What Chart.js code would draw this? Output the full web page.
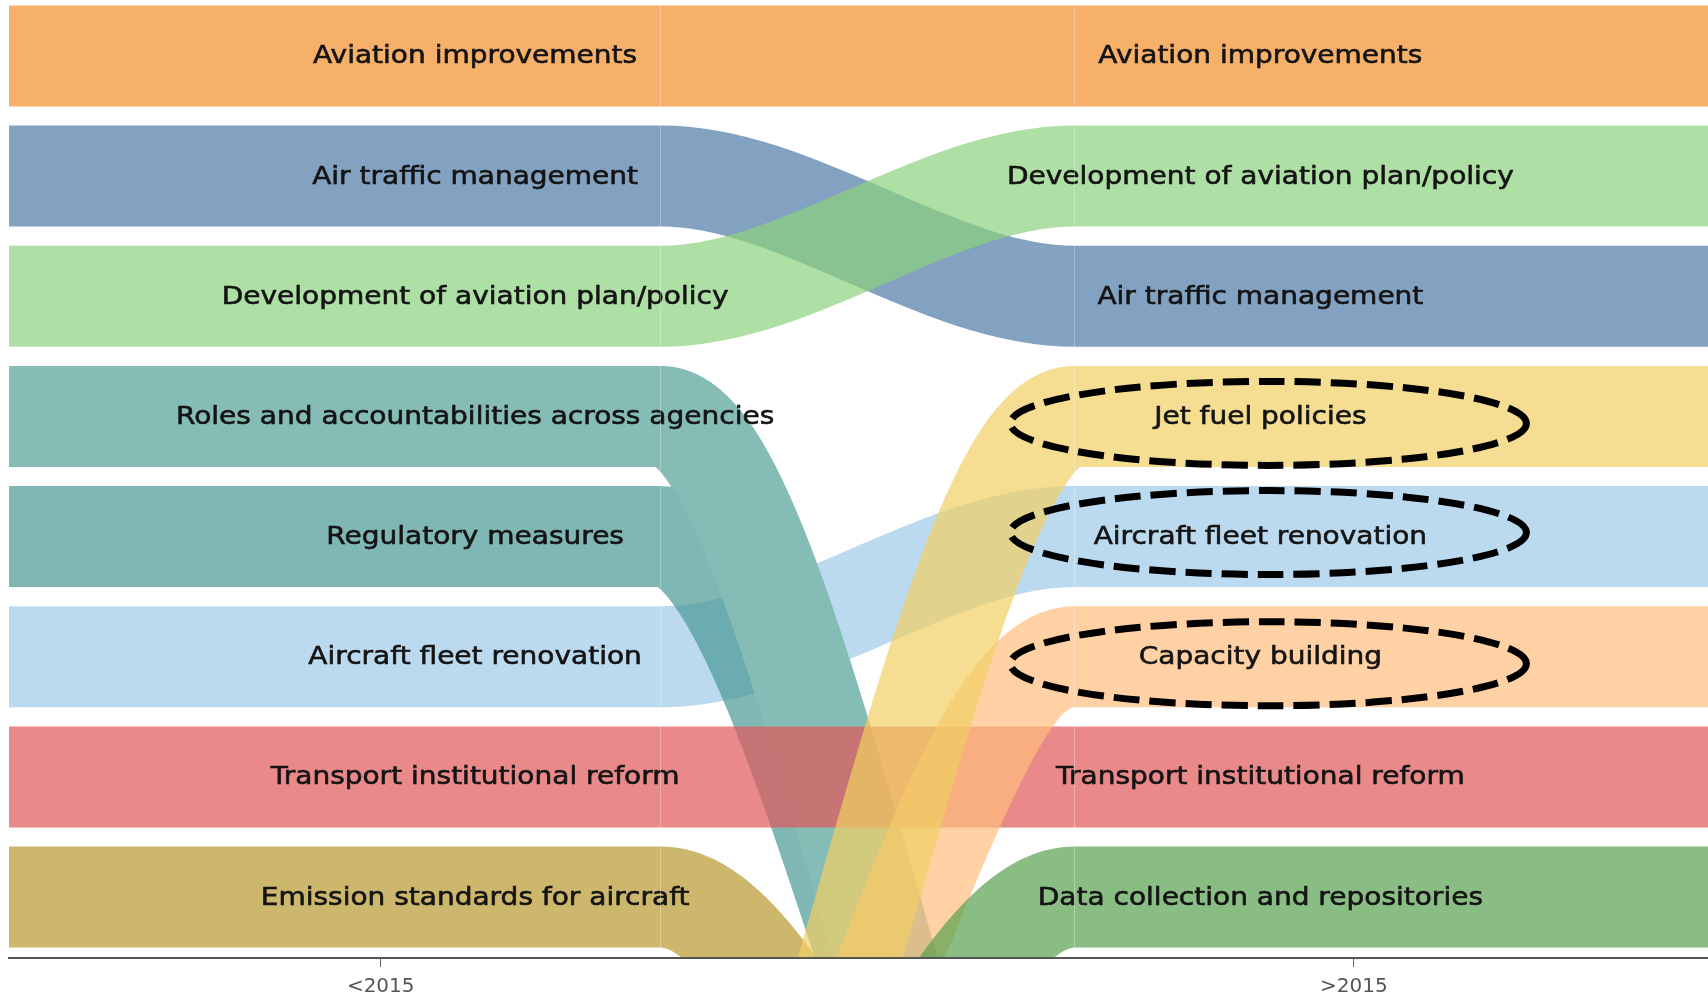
<!DOCTYPE html>
<html>
<head>
<meta charset="utf-8">
<script src="https://cdn.jsdelivr.net/npm/chart.js@4"></script>
<style>
  html, body { margin: 0; padding: 0; background: #fff; }
  #wrap { width: 1708px; height: 998px; }
</style>
</head>
<body>
<div id="wrap"><canvas id="chart"></canvas></div>
<script>
const periods = ["<2015", ">2015"];

const categories = [
  "Aviation improvements",
  "Air traffic management",
  "Development of aviation plan/policy",
  "Roles and accountabilities across agencies",
  "Regulatory measures",
  "Aircraft fleet renovation",
  "Transport institutional reform",
  "Emission standards for aircraft",
  "Jet fuel policies",
  "Capacity building",
  "Data collection and repositories",
];

// rank in each period, null = not in that period's list
const rankBefore = [1, 2, 3, 4, 5, 6, 7, 8, null, null, null];
const rankAfter  = [1, 3, 2, null, null, 5, 7, null, 4, 6, 8];
const offChartRank = 12; // where missing items sit (below the axis)

// hand-drawn rings on the right, with their small vertical nudge in px
const highlighted = ["Jet fuel policies", "Aircraft fleet renovation", "Capacity building"];
const ringNudge = [7, -4, 7];

const COLORS = {
  "Aviation improvements": ["#F28E2B", 0.7],
  "Air traffic management": ["#4E79A7", 0.7],
  "Development of aviation plan/policy": ["#8CD17D", 0.7],
  "Roles and accountabilities across agencies": ["#86BCB6", 1],
  "Regulatory measures": ["#499894", 0.7],
  "Aircraft fleet renovation": ["#A0CBE8", 0.7],
  "Transport institutional reform": ["#E15759", 0.7],
  "Emission standards for aircraft": ["#B6992D", 0.7],
  "Jet fuel policies": ["#F1CE63", 0.7],
  "Capacity building": ["#FFBE7D", 0.7],
  "Data collection and repositories": ["#59A14F", 0.7],
};

// bottom layer first
const LAYERS = [
  "Emission standards for aircraft",
  "Aircraft fleet renovation",
  "Regulatory measures",
  "Roles and accountabilities across agencies",
  "Transport institutional reform",
  "Air traffic management",
  "Development of aviation plan/policy",
  "Aviation improvements",
  "Capacity building",
  "Jet fuel policies",
  "Data collection and repositories",
];

// x layout, in axis units (periods sit at 1 and 2)
const periodPos = [1, 2];
const seams = [1.288, 1.713];
const labelPos = [1.097, 1.904];
const X_MIN = 0.618, X_MAX = 2.364;
const BAND = 101;

function rgba(hex, a) {
  const n = parseInt(hex.slice(1), 16);
  return `rgba(${n >> 16}, ${(n >> 8) & 255}, ${n & 255}, ${a})`;
}

const datasets = categories.map((name, i) => {
  const a = rankBefore[i] ?? offChartRank;
  const b = rankAfter[i] ?? offChartRank;
  const [hex, alpha] = COLORS[name];
  return {
    label: name,
    data: [
      { x: X_MIN - 0.2, y: a },
      { x: seams[0], y: a },
      { x: seams[1], y: b },
      { x: X_MAX + 0.2, y: b },
    ],
    borderColor: rgba(hex, alpha),
    borderWidth: BAND,
    borderCapStyle: "butt",
    cubicInterpolationMode: "monotone",
    pointRadius: 0,
    fill: false,
    clip: 0,
    order: LAYERS.length - LAYERS.indexOf(name),
  };
});

const bandText = {
  id: "bandText",
  afterDatasetsDraw(chart) {
    const { ctx, scales: { x, y } } = chart;
    ctx.save();
    ctx.font = '25px "DejaVu Sans"';
    ctx.fillStyle = "#141414";
    ctx.strokeStyle = "#141414";
    ctx.lineWidth = 0.6;
    ctx.textAlign = "center";
    ctx.textBaseline = "middle";
    [rankBefore, rankAfter].forEach((ranks, p) => {
      const px = x.getPixelForValue(labelPos[p]);
      categories.forEach((name, i) => {
        if (ranks[i] == null) return;
        ctx.save();
        ctx.translate(px, y.getPixelForValue(ranks[i]) + 1);
        ctx.scale(1.12, 1);
        ctx.fillText(name, 0, 0);
        ctx.strokeText(name, 0, 0);
        ctx.restore();
      });
    });

    // dashed rings round the new right-hand items
    ctx.lineWidth = 7;
    ctx.setLineDash([26, 10]);
    ctx.strokeStyle = "#000";
    highlighted.forEach((name, k) => {
      const r = rankAfter[categories.indexOf(name)];
      const cx = x.getPixelForValue(labelPos[1]) + 8;
      const cy = y.getPixelForValue(r) + ringNudge[k];
      ctx.beginPath();
      ctx.ellipse(cx, cy, 258, 42, 0, 0, Math.PI * 2);
      ctx.stroke();
    });
    ctx.restore();
  },
};

new Chart(document.getElementById("chart"), {
  type: "line",
  data: { datasets },
  plugins: [bandText],
  options: {
    responsive: true,
    maintainAspectRatio: false,
    animation: false,
    events: [],
    layout: { padding: { left: 9, right: 0, top: 0, bottom: 0 }, autoPadding: false },
    elements: { line: { capBezierPoints: false } },
    plugins: { legend: { display: false }, tooltip: { enabled: false } },
    scales: {
      x: {
        type: "linear",
        min: X_MIN,
        max: X_MAX,
        afterBuildTicks: s => {
          s.ticks = [...periodPos, ...seams].sort((a, b) => a - b).map(v => ({ value: v }));
        },
        afterFit: s => { s.height = 40; },
        ticks: {
          autoSkip: false,
          maxRotation: 0,
          padding: 8,
          color: "#555",
          font: { family: "DejaVu Sans", size: 20 },
          callback: v => {
            const k = periodPos.indexOf(v);
            return k >= 0 ? periods[k] : "";
          },
        },
        grid: {
          z: 1,
          tickLength: 9,
          lineWidth: 1,
          color: c => seams.includes(c.tick && c.tick.value) ? "rgba(255,255,255,0.3)" : "rgba(0,0,0,0)",
          tickColor: c => periodPos.includes(c.tick && c.tick.value) ? "#666" : "rgba(0,0,0,0)",
        },
        border: { display: true, color: "#555", width: 2, z: 1 },
      },
      y: {
        type: "linear",
        reverse: true,
        min: 0.535,
        max: 8.507,
        display: false,
      },
    },
  },
});
</script>
</body>
</html>
